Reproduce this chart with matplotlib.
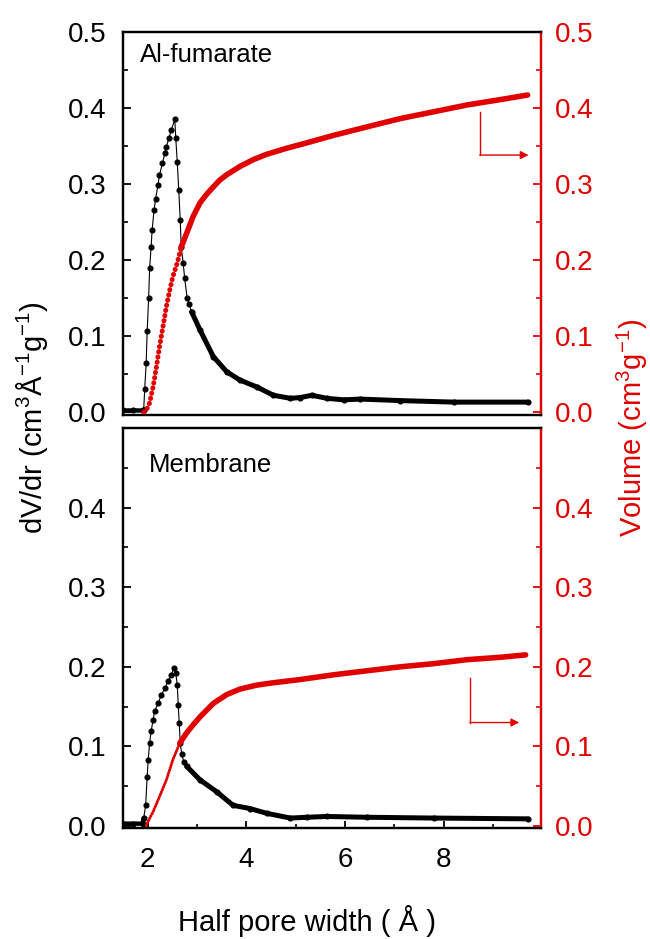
import matplotlib
matplotlib.use("Agg")
import matplotlib.pyplot as plt
import numpy as np

plt.rcParams['font.family'] = ['Liberation Sans', 'DejaVu Sans']
plt.rcParams['mathtext.fontset'] = 'custom'
plt.rcParams['mathtext.rm'] = 'Liberation Sans'
plt.rcParams['mathtext.it'] = 'Liberation Sans:italic'
plt.rcParams['mathtext.bf'] = 'Liberation Sans:bold'

# ---------------- data ----------------
panel_names = ["Al-fumarate", "Membrane"]

top_x_dv = [1.50, 1.70, 1.90, 1.92, 1.94, 1.97, 1.99, 2.02, 2.04, 2.07, 2.09, 2.13, 2.16, 2.21, 2.24,
            2.30, 2.35, 2.38, 2.43, 2.48, 2.55, 2.57, 2.60, 2.63, 2.66, 2.68, 2.72, 2.75, 2.80, 2.84,
            2.89, 3.06, 3.33, 3.60, 3.87, 4.21, 4.55, 4.89, 5.09, 5.33, 5.63, 5.97, 6.31, 7.12, 8.21, 9.70]
top_dv = [0.002, 0.002, 0.002, 0.003, 0.030, 0.064, 0.106, 0.150, 0.189, 0.217, 0.239, 0.266, 0.280,
          0.299, 0.312, 0.327, 0.341, 0.349, 0.360, 0.371, 0.385, 0.360, 0.329, 0.292, 0.253, 0.217,
          0.196, 0.176, 0.150, 0.142, 0.132, 0.108, 0.073, 0.053, 0.042, 0.033, 0.022, 0.018, 0.019,
          0.022, 0.018, 0.016, 0.017, 0.015, 0.013, 0.013]

top_x_v = [1.92, 1.97, 2.04, 2.11, 2.18, 2.24, 2.31, 2.38, 2.45, 2.51, 2.60, 2.68, 2.79, 2.92, 3.06,
           3.19, 3.33, 3.46, 3.60, 3.87, 4.14, 4.41, 4.82, 5.22, 5.77, 6.44, 7.12, 7.80, 8.48, 9.15, 9.70]
top_v = [0.0, 0.002, 0.012, 0.033, 0.060, 0.086, 0.112, 0.139, 0.161, 0.178, 0.196, 0.217, 0.235,
         0.257, 0.275, 0.286, 0.296, 0.305, 0.312, 0.323, 0.332, 0.339, 0.347, 0.354, 0.364, 0.375,
         0.386, 0.395, 0.404, 0.411, 0.417]

bot_x_dv = [1.50, 1.70, 1.90, 1.92, 1.96, 1.99, 2.01, 2.04, 2.07, 2.11, 2.14, 2.21, 2.28, 2.35, 2.41,
            2.48, 2.53, 2.57, 2.60, 2.62, 2.64, 2.66, 2.69, 2.73, 2.79, 3.06, 3.40, 3.73, 4.07, 4.41,
            4.89, 5.23, 5.63, 6.44, 7.80, 9.70]
bot_dv = [0.003, 0.003, 0.003, 0.010, 0.026, 0.062, 0.083, 0.104, 0.119, 0.133, 0.144, 0.154, 0.165,
          0.173, 0.182, 0.190, 0.198, 0.192, 0.177, 0.152, 0.129, 0.104, 0.091, 0.081, 0.075, 0.058,
          0.043, 0.026, 0.022, 0.016, 0.010, 0.011, 0.012, 0.011, 0.010, 0.009]

bot_x_v = [1.97, 2.11, 2.24, 2.38, 2.51, 2.65, 2.79, 2.92, 3.06, 3.33, 3.60, 3.87, 4.21, 4.55, 5.09,
           5.77, 6.44, 7.12, 7.80, 8.48, 9.15, 9.66]
bot_v = [0.001, 0.018, 0.037, 0.058, 0.083, 0.104, 0.117, 0.127, 0.137, 0.154, 0.165, 0.172, 0.177,
         0.180, 0.184, 0.190, 0.195, 0.200, 0.204, 0.209, 0.212, 0.215]

x_ticks = [2, 4, 6, 8]
y_ticks_top = [0.0, 0.1, 0.2, 0.3, 0.4, 0.5]
y_ticks_bot = [0.0, 0.1, 0.2, 0.3, 0.4]

# arrow annotations (vertical start, corner, tip) per panel
arrow_top = dict(x0=8.73, y0=0.395, y1=0.338, x1=9.72)
arrow_bot = dict(x0=8.53, y0=0.186, y1=0.130, x1=9.53)

RED = '#e00000'

fig = plt.figure(figsize=(6.5, 9.39), dpi=100)
ax_top = fig.add_axes([0.1892, 0.558, 0.643, 0.408])
ax_bot = fig.add_axes([0.1892, 0.1182, 0.643, 0.426])

def draw_panel(ax, xd, yd, xv, yv, ylim, yticks, name, name_pos, arrow, show_x, dense_dv_lo, dense_dv_hi, dense_v, red_big_dots):
    xd = np.array(xd); yd = np.array(yd)
    xv = np.array(xv); yv = np.array(yv)
    # black dV/dr : thin line with markers, and thick where points are dense
    ax.plot(xd, yd, color='black', lw=0.8, marker='o', ms=3.4, mec='black', mfc='black', zorder=3)
    m = xd <= dense_dv_lo
    ax.plot(xd[m], yd[m], color='black', lw=3.2, solid_capstyle='round', zorder=3)
    m = xd >= dense_dv_hi
    ax.plot(xd[m], yd[m], color='black', lw=3.6, solid_capstyle='round', solid_joinstyle='round', zorder=3)
    ax.set_xlim(1.5, 9.97)
    ax.set_ylim(*ylim)
    ax.set_yticks(yticks)
    ax.set_yticks(np.arange(0.05, ylim[1], 0.1), minor=True)
    ax.set_yticklabels([f"{t:.1f}" for t in yticks])
    ax.tick_params(axis='y', which='major', direction='in', length=6, width=1.3, labelsize=20, pad=12, right=False)
    ax.tick_params(axis='y', which='minor', direction='in', length=3.5, width=1.2, right=False)
    ax.set_xticks(x_ticks)
    ax.set_xticks([3, 5, 7, 9], minor=True)
    if show_x:
        ax.tick_params(axis='x', which='major', direction='in', length=5, width=1.3, labelsize=20, pad=14, top=False)
        ax.tick_params(axis='x', which='minor', direction='in', length=3, width=1.2, top=False)
    else:
        ax.tick_params(axis='x', which='both', bottom=False, top=False, labelbottom=False)
    for s in ax.spines.values():
        s.set_linewidth(1.6)
    ax.text(name_pos[0], name_pos[1], name, transform=ax.transAxes, fontsize=18.5, ha='left', va='center')

    ax2 = ax.twinx()
    m = xv <= dense_v
    if red_big_dots:
        ax2.plot(xv[m], yv[m], color=RED, lw=3.6, linestyle=(0, (0.05, 1.0)), dash_capstyle='round', zorder=4)
    else:
        ax2.plot(xv[m], yv[m], color=RED, lw=2.2, linestyle=(0, (0.05, 0.8)), dash_capstyle='round', zorder=4)
    m = xv >= dense_v
    ax2.plot(xv[m], yv[m], color=RED, lw=4.0, solid_capstyle='round', solid_joinstyle='round', zorder=4)
    ax2.set_ylim(*ylim)
    ax2.set_yticks(yticks)
    ax2.set_yticks(np.arange(0.05, ylim[1], 0.1), minor=True)
    ax2.set_yticklabels([f"{t:.1f}" for t in yticks])
    ax2.tick_params(axis='y', which='major', direction='in', length=6, width=1.3, labelsize=20, pad=10,
                    colors=RED)
    ax2.tick_params(axis='y', which='minor', direction='in', length=3.5, width=1.2, colors=RED)
    for k, s in ax2.spines.items():
        s.set_linewidth(1.6)
    ax2.spines['right'].set_color(RED)
    # arrow pointing to right axis
    ax2.plot([arrow['x0'], arrow['x0']], [arrow['y0'], arrow['y1']], color=RED, lw=1.0)
    ax2.annotate('', xy=(arrow['x1'], arrow['y1']), xytext=(arrow['x0'], arrow['y1']),
                 arrowprops=dict(arrowstyle='-|>', color=RED, lw=1.0, mutation_scale=12, shrinkA=0, shrinkB=0))
    return ax2

draw_panel(ax_top, top_x_dv, top_dv, top_x_v, top_v, (-0.004, 0.5), y_ticks_top, panel_names[0],
           (0.041, 0.94), arrow_top, False, 1.92, 2.89, 2.68, True)
draw_panel(ax_bot, bot_x_dv, bot_dv, bot_x_v, bot_v, (-0.0025, 0.5), y_ticks_bot, panel_names[1],
           (0.062, 0.9075), arrow_bot, True, 1.92, 2.79, 2.65, False)

fig.text(0.049, 0.555, r'dV/dr (cm$^{3}$Å$^{-1}$g$^{-1}$)', rotation=90, fontsize=21,
         ha='center', va='center')
fig.text(0.973, 0.544, r'Volume (cm$^{3}$g$^{-1}$)', rotation=90, fontsize=21, color=RED,
         ha='center', va='center')
fig.text(0.472, 0.019, 'Half pore width ( Å )', fontsize=21, ha='center', va='center')

fig.savefig('out.png', dpi=100)
